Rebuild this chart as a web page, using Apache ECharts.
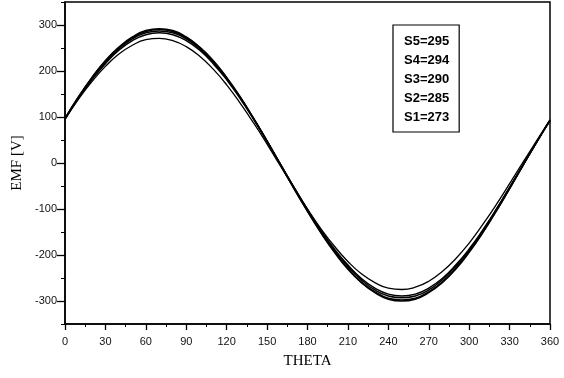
<!DOCTYPE html>
<html>
<head>
<meta charset="utf-8">
<script src="https://cdn.jsdelivr.net/npm/echarts@6/dist/echarts.min.js"></script>
<style>html,body{margin:0;padding:0;background:#fff}#c{width:564px;height:378px}</style>
</head>
<body>
<div id="c"></div>
<script>
var theta = [0,10,20,30,40,50,60,70,80,90,100,110,120,130,140,150,160,170,180,190,200,210,220,230,240,250,260,270,280,290,300,310,320,330,340,350,360];
var yTicks = [-300,-200,-100,0,100,200,300];
var yMinor = [-350,-250,-150,-50,50,150,250,350];
var seriesNames = ['S5=295','S4=294','S3=290','S2=285','S1=273'];
var s5 = [97,144,186,223,252,274,288,292,288,274,252,223,186,144,97,48,-4,-56,-105,-152,-194,-231,-260,-282,-296,-300,-296,-282,-260,-231,-194,-152,-105,-56,-5,45,93];
var s4 = [97,143,185,221,251,272,286,290,286,272,251,221,185,143,97,47,-4,-55,-105,-151,-193,-229,-259,-280,-294,-298,-294,-280,-259,-229,-193,-151,-105,-55,-5,45,93];
var s3 = [96,142,184,219,248,270,283,287,283,270,248,219,184,142,96,47,-3,-53,-102,-148,-190,-225,-254,-276,-289,-293,-289,-276,-254,-225,-190,-148,-102,-53,-4,45,92];
var s2 = [95,140,181,216,245,266,279,283,279,266,245,216,181,140,95,47,-3,-53,-101,-146,-187,-222,-251,-272,-285,-289,-285,-272,-251,-222,-187,-146,-101,-53,-4,45,92];
var s1 = [96,139,177,210,237,256,268,271,266,253,232,204,170,130,87,41,-7,-54,-100,-143,-181,-214,-241,-260,-272,-275,-270,-257,-236,-208,-174,-134,-91,-45,2,48,94];
var allData = [s5,s4,s3,s2,s1];

function pairs(arr){ return theta.map(function(t,i){ return [t, arr[i]]; }); }

var chart = echarts.init(document.getElementById('c'), null, {renderer:'canvas'});
var labelFont = {fontFamily:'Liberation Sans, Arial, sans-serif', fontSize:11, color:'#111'};
chart.setOption({
  animation:false,
  backgroundColor:'#fff',
  grid:{left:65, right:14, top:2, bottom:54, show:true, borderColor:'#000', borderWidth:1.5, backgroundColor:'transparent'},
  legend:{
    data:seriesNames, orient:'vertical', left:393, top:25,
    icon:'none', itemWidth:0, itemHeight:13, itemGap:6,
    padding:[10,10,8,6],
    borderColor:'#000', borderWidth:1.2, backgroundColor:'#fff',
    selectedMode:false,
    textStyle:{fontFamily:'Liberation Sans, Arial, sans-serif', fontSize:13, fontWeight:'bold', color:'#000'}
  },
  xAxis:{
    type:'value', min:0, max:360, interval:30,
    name:'THETA', nameLocation:'middle', nameGap:30,
    nameTextStyle:{fontFamily:'Liberation Serif, Times New Roman, serif', fontSize:15, color:'#000'},
    axisLine:{show:true, onZero:false, lineStyle:{color:'#000', width:1.5}},
    axisTick:{show:true, inside:false, length:6, lineStyle:{color:'#000', width:1.3}},
    minorTick:{show:true, splitNumber:2, length:3, lineStyle:{color:'#000', width:1}},
    axisLabel:Object.assign({margin:12}, labelFont),
    splitLine:{show:false}
  },
  yAxis:[{
    type:'value', min:-350, max:350,
    name:'EMF [V]', nameLocation:'middle', nameGap:34, nameRotate:90,
    nameTextStyle:{fontFamily:'Liberation Serif, Times New Roman, serif', fontSize:15, color:'#000'},
    axisLine:{show:true, onZero:false, lineStyle:{color:'#000', width:1.5}},
    axisTick:{show:true, inside:false, length:8, customValues:yTicks, lineStyle:{color:'#000', width:1.3}},
    axisLabel:Object.assign({margin:8, customValues:yTicks}, labelFont),
    splitLine:{show:false}
  },{
    type:'value', min:-350, max:350, position:'left',
    axisLine:{show:false, onZero:false},
    axisTick:{show:true, inside:false, length:4, customValues:yMinor, lineStyle:{color:'#000', width:1}},
    axisLabel:{show:false},
    splitLine:{show:false}
  }],
  series: seriesNames.map(function(n,i){
    return {
      name:n, type:'line', data:pairs(allData[i]), smooth:true, showSymbol:false,
      lineStyle:{color:'#000', width: i===4 ? 1.3 : 1.5}, itemStyle:{color:'#000'}
    };
  })
});
</script>
</body>
</html>
